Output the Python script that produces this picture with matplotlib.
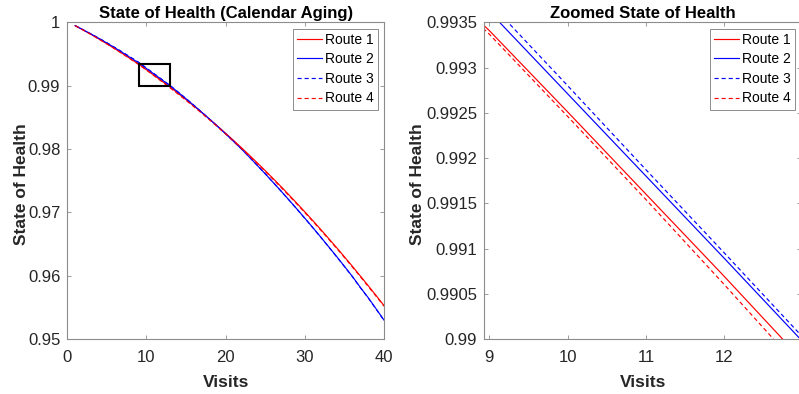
import matplotlib
matplotlib.use('Agg')
import matplotlib.pyplot as plt
from matplotlib.patches import Rectangle

plt.rcParams['font.family'] = ['Liberation Sans', 'DejaVu Sans']

visits = list(range(1, 41))

route1 = [0.99948, 0.99880, 0.99810, 0.99737, 0.99662, 0.99585, 0.99505, 0.99423,
          0.99341, 0.99251, 0.99160, 0.99069, 0.98976, 0.98879, 0.98780, 0.98679,
          0.98575, 0.98469, 0.98360, 0.98249, 0.98136, 0.98020, 0.97902, 0.97781,
          0.97659, 0.97533, 0.97406, 0.97275, 0.97143, 0.97008, 0.96871, 0.96731,
          0.96589, 0.96445, 0.96298, 0.96149, 0.95997, 0.95843, 0.95687, 0.95528]
route2 = [0.99948, 0.99883, 0.99816, 0.99746, 0.99674, 0.99599, 0.99521, 0.99441,
          0.99362, 0.99271, 0.99180, 0.99089, 0.98997, 0.98896, 0.98793, 0.98687,
          0.98578, 0.98467, 0.98354, 0.98239, 0.98121, 0.98000, 0.97872, 0.97741,
          0.97609, 0.97473, 0.97336, 0.97195, 0.97053, 0.96908, 0.96761, 0.96611,
          0.96459, 0.96305, 0.96148, 0.95989, 0.95817, 0.95653, 0.95477, 0.95298]
route3 = [0.99948, 0.99884, 0.99818, 0.99750, 0.99679, 0.99605, 0.99529, 0.99450,
          0.99372, 0.99280, 0.99187, 0.99095, 0.99002, 0.98901, 0.98797, 0.98690,
          0.98581, 0.98470, 0.98356, 0.98241, 0.98122, 0.98001, 0.97873, 0.97741,
          0.97609, 0.97472, 0.97335, 0.97193, 0.97051, 0.96905, 0.96758, 0.96608,
          0.96455, 0.96301, 0.96144, 0.95985, 0.95813, 0.95649, 0.95472, 0.95293]
route4 = [0.99948, 0.99879, 0.99809, 0.99735, 0.99660, 0.99582, 0.99502, 0.99419,
          0.99337, 0.99246, 0.99154, 0.99060, 0.98964, 0.98867, 0.98768, 0.98667,
          0.98563, 0.98457, 0.98348, 0.98237, 0.98124, 0.98008, 0.97890, 0.97769,
          0.97647, 0.97521, 0.97394, 0.97263, 0.97131, 0.96996, 0.96860, 0.96720,
          0.96578, 0.96434, 0.96287, 0.96138, 0.95986, 0.95832, 0.95676, 0.95518]

labels = ['Route 1', 'Route 2', 'Route 3', 'Route 4']

# zoom window shown on the left and used as limits on the right
zoom_x = [9, 13]
zoom_y = [0.99, 0.9935]

dark = '#262626'
series = [(route1, 'red', '-'), (route2, 'blue', '-'),
          (route3, 'blue', '--'), (route4, 'red', '--')]


def style_axes(ax, ylab_x):
    for s in ax.spines.values():
        s.set_color('#8c8c8c')
        s.set_linewidth(0.8)
    ax.tick_params(direction='in', length=3, width=0.6, color='#8c8c8c',
                   labelsize=12, labelcolor=dark, top=True, right=True)
    ax.tick_params(axis='x', pad=8)
    ax.tick_params(axis='y', pad=5)
    ax.set_xlabel('Visits', fontsize=12.5, fontweight='bold', color=dark, labelpad=7)
    ax.set_ylabel('State of Health', fontsize=12.5, fontweight='bold', color=dark)
    ax.yaxis.set_label_coords(ylab_x, 0.49)


def add_legend(ax):
    leg = ax.legend(loc='upper right', fontsize=10, frameon=True, fancybox=False,
                    framealpha=1, edgecolor='#8c8c8c', borderaxespad=0.45,
                    handlelength=1.8, handletextpad=0.2, labelspacing=0.4,
                    borderpad=0.3)
    leg.get_frame().set_linewidth(0.7)


fig = plt.figure(figsize=(7.99, 3.94), dpi=100)
ax1 = fig.add_axes([0.0842, 0.1396, 0.3964, 0.8036])
ax2 = fig.add_axes([0.6061, 0.1396, 0.3967, 0.8036])

for ax in (ax1, ax2):
    for (vals, color, ls), lab in zip(series, labels):
        line, = ax.plot(visits, vals, color=color, linestyle=ls, linewidth=0.85, label=lab)
        if ls == '--':
            line.set_dashes((3.5, 2.5))

ax1.add_patch(Rectangle((zoom_x[0], zoom_y[0]), zoom_x[1] - zoom_x[0],
                        zoom_y[1] - zoom_y[0], fill=False, edgecolor='black',
                        linewidth=1.5, zorder=5))
ax1.set_xlim(0, 40)
ax1.set_ylim(0.95, 1)
ax1.set_xticks([0, 10, 20, 30, 40])
ax1.set_yticks([0.95, 0.96, 0.97, 0.98, 0.99, 1])
ax1.set_yticklabels(['0.95', '0.96', '0.97', '0.98', '0.99', '1'])
ax1.set_title('State of Health (Calendar Aging)', fontsize=12, fontweight='bold', pad=3)
style_axes(ax1, -0.122)
add_legend(ax1)

ax2.set_xlim(8.936, 12.98)
ax2.set_ylim(zoom_y[0], zoom_y[1])
ax2.set_xticks([9, 10, 11, 12])
yt = [0.99, 0.9905, 0.991, 0.9915, 0.992, 0.9925, 0.993, 0.9935]
ax2.set_yticks(yt)
ax2.set_yticklabels(['%g' % v for v in yt])
ax2.set_title('Zoomed State of Health', fontsize=12, fontweight='bold', pad=3)
style_axes(ax2, -0.188)
add_legend(ax2)

fig.savefig('out.png', dpi=100)
